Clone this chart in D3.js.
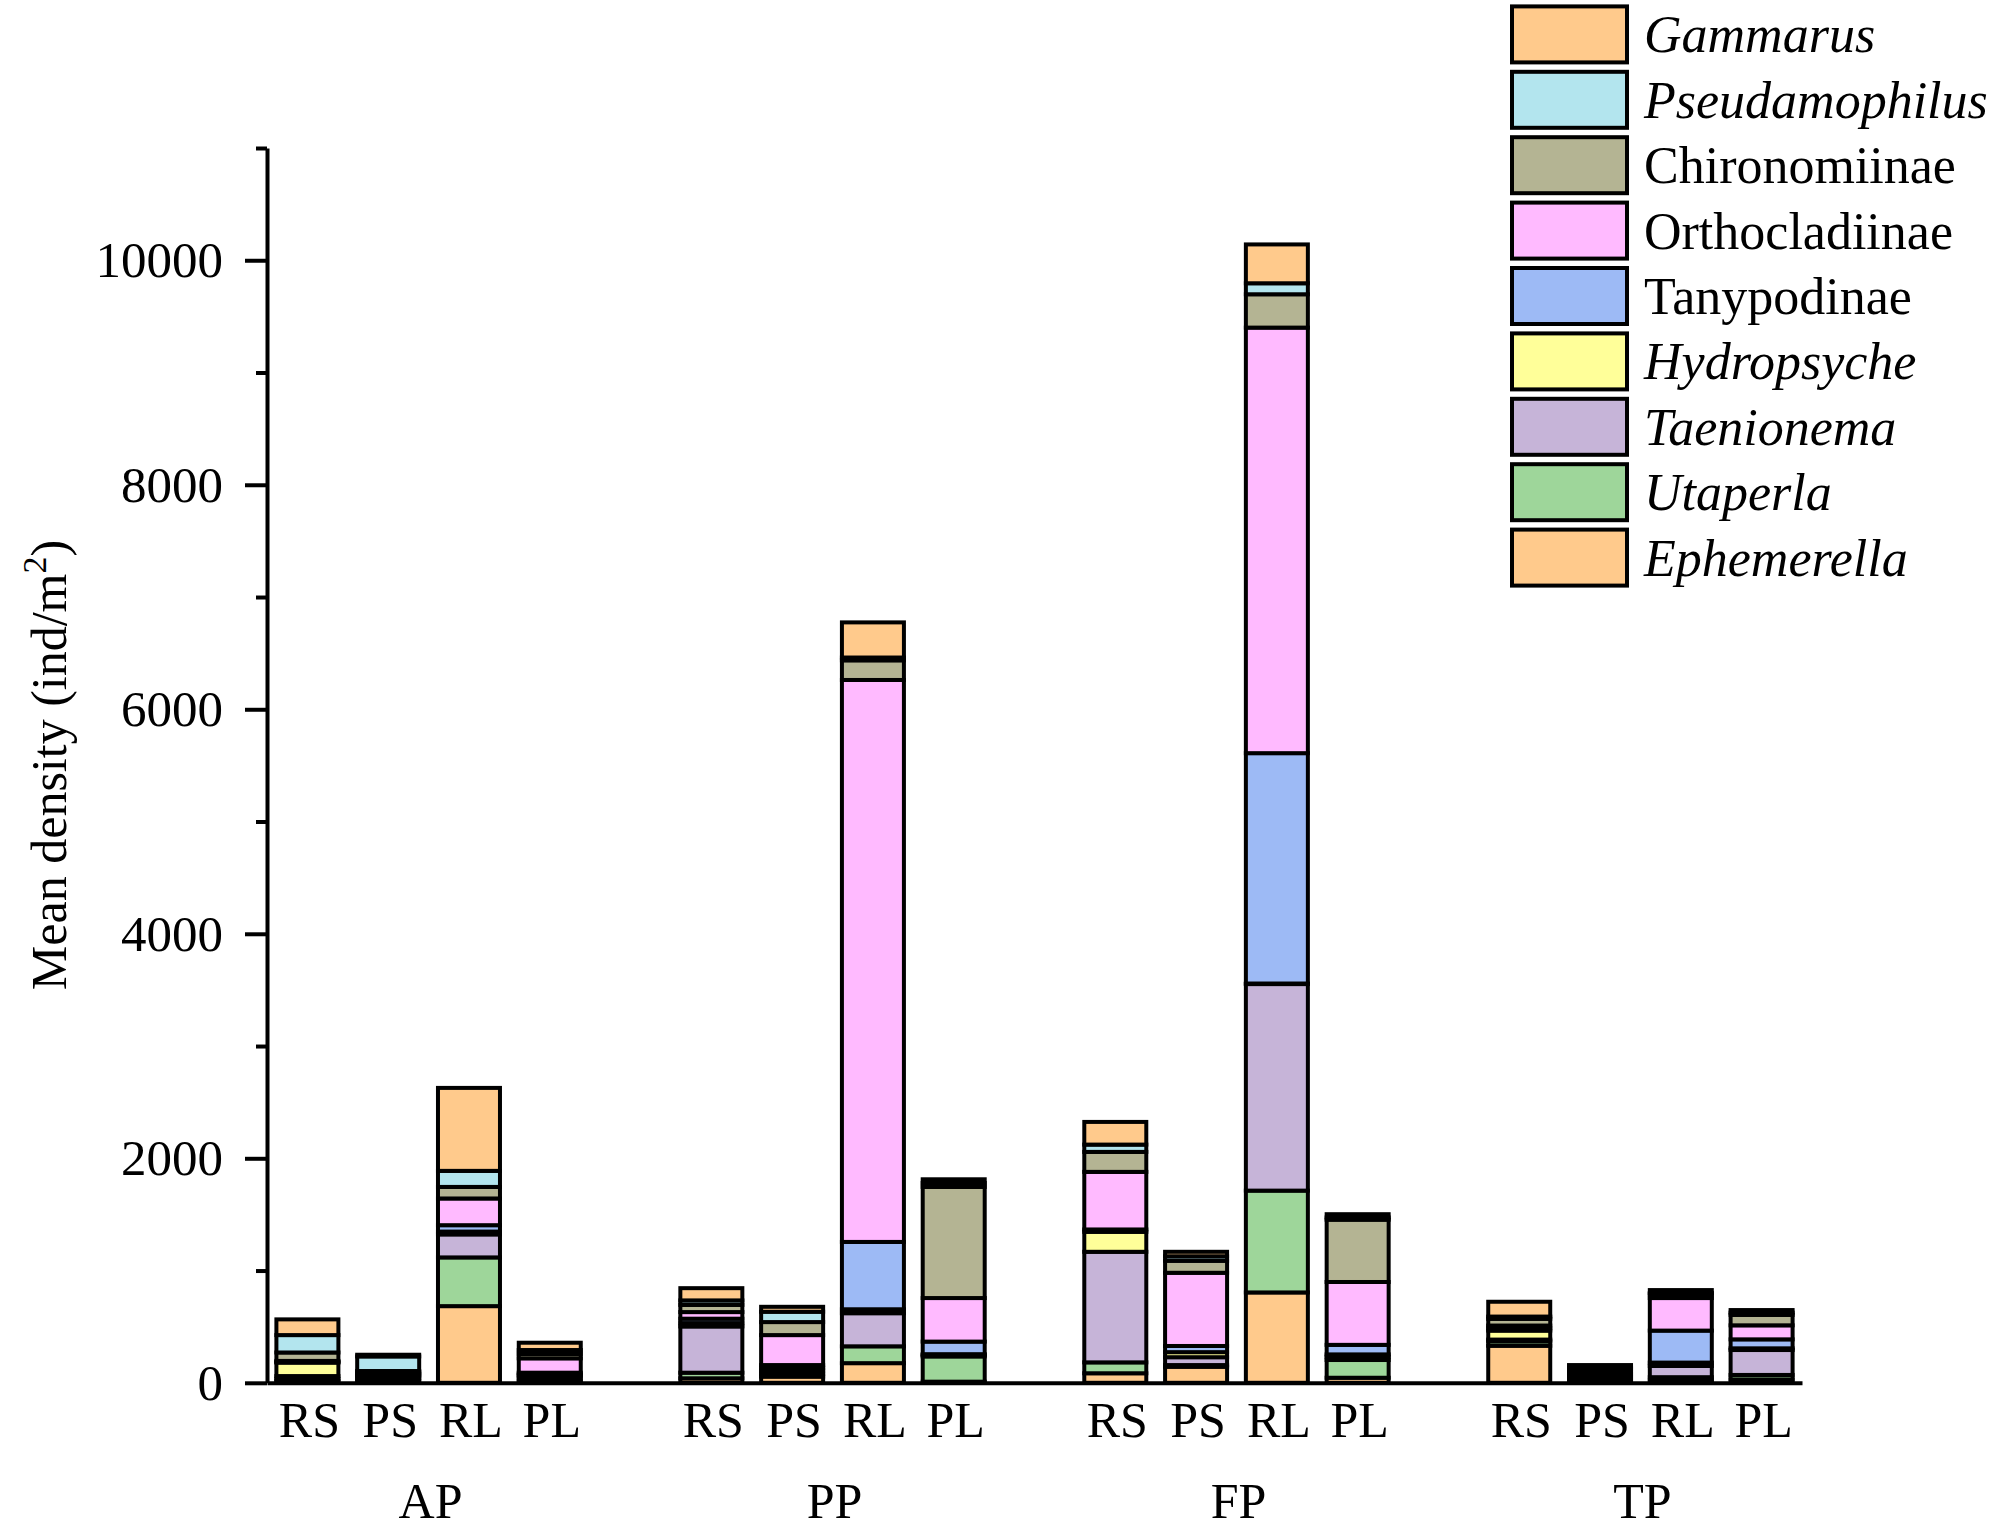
<!DOCTYPE html>
<html>
<head>
<meta charset="utf-8">
<script src="https://cdn.jsdelivr.net/npm/d3@7"></script>
<style>
  html, body { margin: 0; padding: 0; background: #fff; }
  svg text { font-family: "Liberation Serif", "Times New Roman", serif; fill: #000; }
</style>
</head>
<body>
<svg id="chart" width="1995" height="1532"></svg>
<script>
// ---- data (stack order bottom -> top) ----
const species = ["Ephemerella", "Utaperla", "Taenionema", "Hydropsyche", "Tanypodinae",
                 "Orthocladiinae", "Chironomiinae", "Pseudamophilus", "Gammarus"];
const italicSpecies = ["Ephemerella", "Utaperla", "Taenionema", "Hydropsyche", "Pseudamophilus", "Gammarus"];
const colors = ["#FFCA8C", "#9ED69A", "#C6B4D8", "#FFFF99", "#9DBAF5",
                "#FFBAFF", "#B4B493", "#B3E5EE", "#FFCA8C"];
const periods = ["AP", "PP", "FP", "TP"];
const habitats = ["RS", "PS", "RL", "PL"];

// values per bar, in species order above
const AP = [
  [15, 20, 25, 120, 5, 10, 75, 155, 140],      // RS
  [20, 20, 20, 10, 10, 15, 10, 130, 15],       // PS
  [683, 434, 205, 25, 57, 238, 103, 143, 739], // RL
  [10, 30, 25, 10, 15, 128, 39, 35, 65]        // PL
];
const PP = [
  [40, 50, 412, 30, 39, 59, 64, 40, 109],
  [55, 25, 30, 25, 23, 267, 116, 92, 44],
  [175, 150, 295, 35, 600, 5006, 175, 25, 313],
  [10, 225, 12, 8, 112, 388, 990, 35, 33]
];
const FP = [
  [85, 97, 985, 178, 21, 513, 178, 65, 202],
  [143, 15, 70, 45, 55, 652, 107, 40, 40],
  [805, 907, 1840, 5, 2052, 3791, 297, 98, 346],
  [45, 158, 30, 20, 85, 560, 555, 20, 29]
];
const TP = [
  [330, 40, 15, 80, 20, 25, 60, 20, 132],
  [15, 15, 20, 15, 15, 20, 25, 10, 23],
  [20, 30, 100, 30, 285, 290, 35, 10, 26],
  [30, 40, 222, 15, 80, 125, 93, 20, 23]
];
const yMajorTicks = [0, 2000, 4000, 6000, 8000, 10000];
const yMinorTicks = [1000, 3000, 5000, 7000, 9000, 11000];
const periodData = [AP, PP, FP, TP];

// ---- build rows ----
const rows = [];
periods.forEach((p, gi) => {
  habitats.forEach((h, hi) => {
    const row = { period: p, habitat: h, slot: gi * 5 + hi };
    species.forEach((s, si) => { row[s] = periodData[gi][hi][si]; });
    rows.push(row);
  });
});

const svg = d3.select("#chart");
const x = d3.scaleLinear().domain([-0.5, 18.5]).range([267, 1802]);
const y = d3.scaleLinear().domain([0, 11000]).range([1382.8, 148]);
const color = d3.scaleOrdinal().domain(species).range(colors);
const barW = 62;
const SW = 4;

const stack = d3.stack().keys(species);
const series = stack(rows);

// bars
const g = svg.append("g");
series.forEach((ser) => {
  g.selectAll(null)
    .data(ser)
    .join("rect")
    .attr("x", d => x(d.data.slot) - barW / 2)
    .attr("y", d => y(d[1]))
    .attr("width", barW)
    .attr("height", d => Math.max(0, y(d[0]) - y(d[1])))
    .attr("fill", color(ser.key))
    .attr("stroke", "#000")
    .attr("stroke-width", SW);
});

// y axis
const yAxisMajor = d3.axisLeft(y).tickValues(yMajorTicks).tickSize(22).tickSizeOuter(0).tickPadding(22)
  .tickFormat(d3.format("d"));
const yAx = svg.append("g").attr("transform", "translate(267,0)").call(yAxisMajor);
yAx.select(".domain").attr("stroke-width", SW).attr("stroke", "#000");
yAx.selectAll(".tick line").attr("stroke-width", SW).attr("stroke", "#000");
yAx.selectAll(".tick text").attr("font-size", 51)
  .style("font-family", "'Liberation Serif', 'Times New Roman', serif");

const yAxisMinor = d3.axisLeft(y).tickValues(yMinorTicks).tickSize(11).tickSizeOuter(0).tickFormat("");
const yAxm = svg.append("g").attr("transform", "translate(267,0)").call(yAxisMinor);
yAxm.select(".domain").remove();
yAxm.selectAll(".tick line").attr("stroke-width", SW).attr("stroke", "#000");

// x axis (line only)
const xAxis = d3.axisBottom(x).tickValues([]).tickSizeOuter(0);
const xAx = svg.append("g").attr("transform", "translate(0,1382.8)").call(xAxis);
xAx.select(".domain").attr("stroke-width", SW).attr("stroke", "#000");

// habitat labels
svg.append("g").selectAll("text")
  .data(rows)
  .join("text")
  .attr("x", d => x(d.slot) + 2)
  .attr("y", 1437)
  .attr("text-anchor", "middle")
  .attr("font-size", 50)
  .text(d => d.habitat);

// period labels
svg.append("g").selectAll("text")
  .data(periods)
  .join("text")
  .attr("x", (d, i) => x(i * 5 + 1.5) + 2)
  .attr("y", 1518)
  .attr("text-anchor", "middle")
  .attr("font-size", 50)
  .text(d => d);

// y axis title
const yt = svg.append("text")
  .attr("transform", "translate(66,765) rotate(-90)")
  .attr("text-anchor", "middle")
  .attr("font-size", 50);
yt.append("tspan").text("Mean density (ind/m");
yt.append("tspan").attr("font-size", 34).attr("dy", -20).text("2");
yt.append("tspan").attr("dy", 20).text(")");

// legend (top -> bottom = reverse stack order)
const legendItems = species.slice().reverse();
const lg = svg.append("g");
legendItems.forEach((s, i) => {
  const top = 6.4 + i * 65.4;
  lg.append("rect")
    .attr("x", 1512).attr("y", top)
    .attr("width", 115).attr("height", 56)
    .attr("fill", color(s))
    .attr("stroke", "#000").attr("stroke-width", SW);
  lg.append("text")
    .attr("x", 1644).attr("y", top + 28 + 18)
    .attr("font-size", 52)
    .attr("font-style", italicSpecies.includes(s) ? "italic" : "normal")
    .text(s);
});
</script>
</body>
</html>
